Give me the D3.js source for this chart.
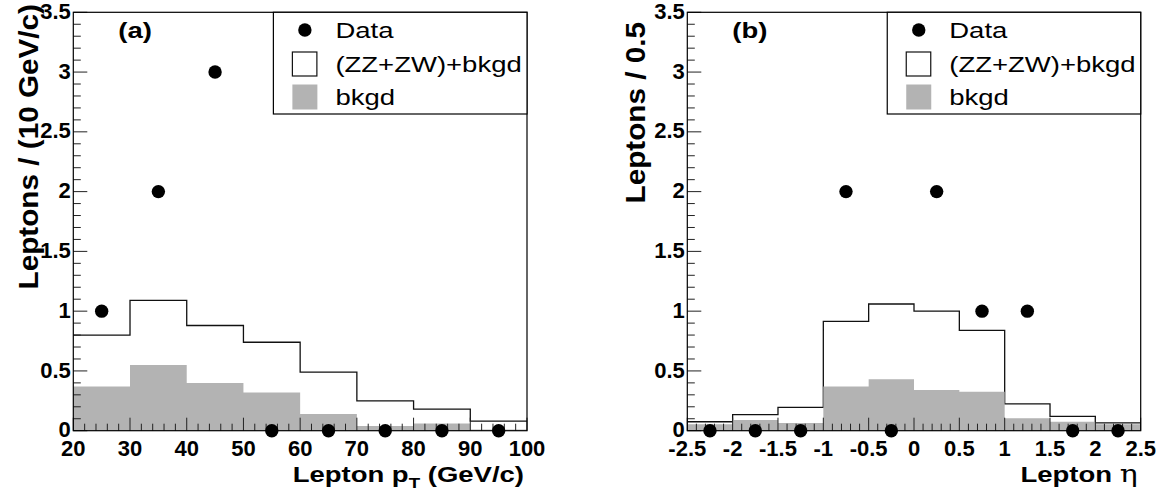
<!DOCTYPE html>
<html>
<head>
<meta charset="utf-8">
<script src="https://cdn.jsdelivr.net/npm/d3@7"></script>
<style>
  body { margin: 0; background: #fff; }
  text { font-family: "Liberation Sans", Arial, sans-serif; }
</style>
</head>
<body>
<svg id="chart" width="1168" height="499"></svg>
<script>
// panel (a): lepton pT
const ptEdges = [20, 30, 40, 50, 60, 70, 80, 90, 100];
const ptTotal = [0.80, 1.09, 0.88, 0.74, 0.49, 0.25, 0.18, 0.08];
const ptBkgd = [0.37, 0.55, 0.40, 0.32, 0.14, 0.04, 0.06, 0.01];
const ptData = [1, 2, 3, 0, 0, 0, 0, 0];
const ptTicks = [20, 30, 40, 50, 60, 70, 80, 90, 100];

// panel (b): lepton eta
const etaEdges = [-2.5, -2, -1.5, -1, -0.5, 0, 0.5, 1, 1.5, 2, 2.5];
const etaTotal = [0.075, 0.135, 0.195, 0.915, 1.06, 1.0, 0.84, 0.225, 0.12, 0.065];
const etaBkgd = [0.055, 0.09, 0.065, 0.37, 0.43, 0.34, 0.325, 0.105, 0.075, 0.055];
const etaData = [0, 0, 0, 2, 0, 2, 1, 1, 0, 0];
const etaTicks = [-2.5, -2, -1.5, -1, -0.5, 0, 0.5, 1, 1.5, 2, 2.5];

const yTicks = [0, 0.5, 1, 1.5, 2, 2.5, 3, 3.5];
const legendLabels = ["Data", "(ZZ+ZW)+bkgd", "bkgd"];

const svg = d3.select("#chart");
const plotTop = 12.3, plotBottom = 430.7;
const grey = "#b3b3b3";

function panel(opt) {
    const g = svg.append("g");
    const x = d3.scaleLinear().domain(opt.domain).range([opt.left, opt.right]);
    const y = d3.scaleLinear().domain([0, 3.5]).range([plotBottom, plotTop]);

    // histogram points for step shapes
    function steps(vals) {
        const pts = [];
        vals.forEach((v, i) => {
            pts.push([opt.edges[i], v]);
            pts.push([opt.edges[i + 1], v]);
        });
        return pts;
    }

    const line = d3.line().x(d => x(d[0])).y(d => y(d[1]));
    const area = d3.area().x(d => x(d[0])).y0(y(0)).y1(d => y(d[1]));

    g.append("path")
        .attr("d", line(steps(opt.total)))
        .attr("fill", "none")
        .attr("stroke", "#111")
        .attr("stroke-width", 1.3);

    g.append("path")
        .attr("d", area(steps(opt.bkgd)))
        .attr("fill", grey);

    // minor + major ticks, y
    const yMinor = d3.range(0, 3.5001, 0.1);
    g.selectAll(".ym").data(yMinor).join("line")
        .attr("x1", opt.left).attr("x2", (d, i) => opt.left + (i % 5 === 0 ? 14 : 7.5))
        .attr("y1", d => y(d)).attr("y2", d => y(d))
        .attr("stroke", "#222").attr("stroke-width", 1);

    const xMinor = d3.range(opt.domain[0], opt.domain[1] + opt.minor / 2, opt.minor);
    g.selectAll(".xm").data(xMinor).join("line")
        .attr("x1", d => x(d)).attr("x2", d => x(d))
        .attr("y1", plotBottom).attr("y2", (d, i) => plotBottom - (i % opt.every === 0 ? 13 : 7))
        .attr("stroke", "#222").attr("stroke-width", 1);

    // frame
    g.append("rect")
        .attr("x", opt.left).attr("y", plotTop)
        .attr("width", opt.right - opt.left).attr("height", plotBottom - plotTop)
        .attr("fill", "none").attr("stroke", "#000").attr("stroke-width", 1.2);

    // data points
    g.selectAll(".pt").data(opt.data).join("circle")
        .attr("cx", (d, i) => x((opt.edges[i] + opt.edges[i + 1]) / 2))
        .attr("cy", d => y(d))
        .attr("r", 6.7)
        .attr("fill", "#000");

    // tick labels
    g.selectAll(".yl").data(yTicks).join("text")
        .attr("x", opt.left - 2.5).attr("y", d => y(d))
        .attr("dy", "0.3em")
        .attr("text-anchor", "end")
        .attr("font-size", 22).attr("font-weight", "bold")
        .text(d => String(d));

    g.selectAll(".xl").data(opt.ticks).join("text")
        .attr("x", d => x(d)).attr("y", 456)
        .attr("text-anchor", "middle")
        .attr("font-size", 22).attr("font-weight", "bold")
        .text(d => String(d));

    // panel tag
    g.append("text")
        .attr("transform", `translate(${opt.left + 45},38) scale(1.25,1)`)
        .attr("font-size", 22).attr("font-weight", "bold")
        .text(opt.tag);

    // legend
    const lx = opt.left + 0.441 * (opt.right - opt.left);
    g.append("rect")
        .attr("x", lx).attr("y", plotTop)
        .attr("width", opt.right - lx).attr("height", 114 - plotTop)
        .attr("fill", "#fff").attr("stroke", "#000").attr("stroke-width", 1.2);
    const rows = [30, 64, 97];
    g.append("circle").attr("cx", lx + 31.5).attr("cy", rows[0]).attr("r", 6.7).attr("fill", "#000");
    g.append("rect").attr("x", lx + 19).attr("y", rows[1] - 12).attr("width", 24.5).attr("height", 24)
        .attr("fill", "#fff").attr("stroke", "#111").attr("stroke-width", 1.2);
    g.append("rect").attr("x", lx + 19).attr("y", rows[2] - 12.5).attr("width", 25).attr("height", 25)
        .attr("fill", grey);
    legendLabels.forEach((t, i) => {
        g.append("text")
            .attr("transform", `translate(${lx + 62},${rows[i] + 8}) scale(1.25,1)`)
            .attr("font-size", 22)
            .text(t);
    });

    // axis titles
    const xt = g.append("text")
        .attr("transform", `translate(${opt.right - 3},482) scale(1.25,1)`)
        .attr("text-anchor", "end")
        .attr("font-size", 22).attr("font-weight", "bold");
    opt.xTitle(xt);

    g.append("text")
        .attr("transform", `translate(${opt.yTitleX},${opt.yTitleEnd}) rotate(-90) scale(1.1,1)`)
        .attr("text-anchor", "end")
        .attr("font-size", 27).attr("font-weight", "bold")
        .text(opt.yTitle);
}

panel({
    left: 73.3, right: 527, domain: [20, 100], edges: ptEdges,
    total: ptTotal, bkgd: ptBkgd, data: ptData, ticks: ptTicks,
    minor: 2, every: 5, tag: "(a)",
    yTitle: "Leptons / (10 GeV/c)", yTitleX: 38, yTitleEnd: 4,
    xTitle: t => {
        t.append("tspan").text("Lepton p");
        t.append("tspan").attr("font-size", 15).attr("dy", 6).text("T");
        t.append("tspan").attr("dy", -6).text(" (GeV/c)");
    }
});

panel({
    left: 687.3, right: 1140.7, domain: [-2.5, 2.5], edges: etaEdges,
    total: etaTotal, bkgd: etaBkgd, data: etaData, ticks: etaTicks,
    minor: 0.1, every: 5, tag: "(b)",
    yTitle: "Leptons / 0.5", yTitleX: 645, yTitleEnd: 22,
    xTitle: t => {
        t.append("tspan").text("Lepton ");
        t.append("tspan").attr("font-family", "'DejaVu Serif', serif").attr("font-weight", "normal").attr("font-size", 24).text("η");
    }
});
</script>
</body>
</html>
